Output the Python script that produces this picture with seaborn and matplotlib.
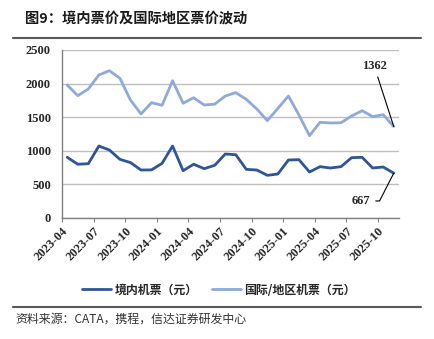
import numpy as np
import pandas as pd
import matplotlib
matplotlib.use("Agg")
import matplotlib.pyplot as plt
import matplotlib.transforms as mtransforms
import seaborn as sns
from matplotlib.lines import Line2D

# Monthly average ticket prices, 2023-04 .. 2025-11
months = pd.period_range("2023-04", "2025-11", freq="M").strftime("%Y-%m").tolist()
domestic = [903, 800, 808, 1071, 1012, 873, 825, 714, 716, 813, 1071, 704, 800, 734,
            784, 952, 942, 724, 714, 635, 655, 863, 868, 685, 764, 744, 764, 898,
            903, 744, 759, 667]
international = [1979, 1820, 1920, 2128, 2192, 2079, 1756, 1548, 1716, 1677, 2043, 1707,
                 1790, 1682, 1694, 1815, 1865, 1766, 1622, 1448, 1632, 1815, 1533, 1225,
                 1424, 1414, 1418, 1518, 1597, 1508, 1538, 1362]
series_names = ["境内机票（元）", "国际/地区机票（元）"]
tick_labels = months[::3][:11]

title_text = "图9：境内票价及国际地区票价波动"
source_text = "资料来源：CATA，携程，信达证券研发中心"

sns.set_theme(style="white")
plt.rcParams["font.family"] = ["Noto Sans CJK SC", "DejaVu Sans"]

dark_blue = "#2E5597"
light_blue = "#8EAADB"

df = pd.DataFrame({
    "idx": list(range(len(months))) * 2,
    "price": domestic + international,
    "series": [series_names[0]] * len(months) + [series_names[1]] * len(months),
})

fig = plt.figure(figsize=(4.34, 3.39), dpi=100)
ax = fig.add_axes([62 / 434, 1 - 218 / 339, (399 - 62) / 434, (218 - 50) / 339])

sns.lineplot(data=df, x="idx", y="price", hue="series",
             palette=[dark_blue, light_blue], linewidth=2.0, ax=ax, legend=False)

ax.set_xlim(-0.5, len(months) - 0.5)
ax.set_ylim(0, 2500)
ax.set_yticks(range(0, 2501, 500))
ax.yaxis.grid(True, color="#BFBFBF", linewidth=1.0)
ax.set_axisbelow(True)
ax.set_xlabel("")
ax.set_ylabel("")

serif_bold = dict(family="Liberation Serif", weight="bold", size=9)
ax.set_yticklabels([str(v) for v in range(0, 2501, 500)], fontdict=serif_bold)
ax.set_xticks(np.arange(-0.5, 30, 3))
ax.set_xticklabels(tick_labels, rotation=45, ha="right", rotation_mode="anchor",
                   fontdict=serif_bold)
shift = mtransforms.ScaledTranslation(5 / 100, 0, fig.dpi_scale_trans)
for lbl in ax.get_xticklabels():
    lbl.set_transform(lbl.get_transform() + shift)
ax.tick_params(axis="x", length=3, width=0.8, color="#808080", pad=2, bottom=True)
ax.tick_params(axis="y", length=0, pad=8)

for side in ["top", "right"]:
    ax.spines[side].set_visible(False)
for side in ["left", "bottom"]:
    ax.spines[side].set_color("#808080")
    ax.spines[side].set_linewidth(1.0)

# End-of-series value callouts
last = len(months) - 1
ax.annotate(str(international[-1]), xy=(last, international[-1]),
            xytext=(-14, 39), textcoords="offset points", ha="center", va="bottom",
            fontfamily="Liberation Serif", fontweight="bold", fontsize=9,
            arrowprops=dict(arrowstyle="-", color="black", lw=0.8,
                            shrinkA=1, shrinkB=0))
ax.annotate(str(domestic[-1]), xy=(last, domestic[-1]),
            xytext=(-24, -20), textcoords="offset points", ha="center", va="center",
            fontfamily="Liberation Serif", fontweight="bold", fontsize=9,
            arrowprops=dict(arrowstyle="-", color="black", lw=0.8,
                            shrinkA=2, shrinkB=0, relpos=(1.0, 0.5),
                            connectionstyle="angle,angleA=0,angleB=63,rad=0"))

# Legend
handles = [Line2D([], [], color=dark_blue, lw=2.0), Line2D([], [], color=light_blue, lw=2.0)]
fig.legend(handles, series_names, loc="center", bbox_to_anchor=(0.505, 1 - 290 / 339),
           ncol=2, frameon=False, handlelength=2.4, handletextpad=0.3,
           columnspacing=1.2, prop=dict(family=["Noto Sans CJK SC", "DejaVu Sans"],
                                        weight="bold", size=8.6))

# Title and rules
fig.text(25 / 434, 1 - 19 / 339, title_text, fontsize=10.3, fontweight="bold",
         ha="left", va="center", color="#1a1a1a")
fig.add_artist(Line2D([13 / 434, 421 / 434], [1 - 38 / 339] * 2, color="#595959", lw=1.5))
fig.add_artist(Line2D([13 / 434, 421 / 434], [1 - 307 / 339] * 2, color="#595959", lw=1.5))
fig.text(15 / 434, 1 - 319 / 339, source_text, fontsize=8.6, style="italic",
         ha="left", va="center", color="#333333")

fig.savefig("out.png", dpi=100)
